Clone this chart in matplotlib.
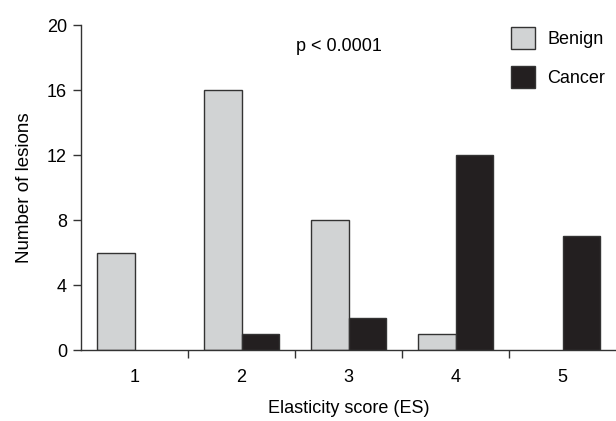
import numpy as np
import matplotlib
matplotlib.use("Agg")
import matplotlib.pyplot as plt
from matplotlib.patches import Patch

plt.rcParams['font.family'] = ['Liberation Sans Narrow', 'Liberation Sans', 'DejaVu Sans']

scores = ['1', '2', '3', '4', '5']
benign = [6, 16, 8, 1, 0]
cancer = [0, 1, 2, 12, 7]

benign_color = '#d1d3d4'
cancer_color = '#231f20'
edge = '#333333'

fig = plt.figure(figsize=(6.16, 4.21), dpi=100)
ax = fig.add_axes([0.1315, 0.1686, 0.8685, 0.772])

x = np.arange(len(scores))
w = 0.355
# no outline on empty bars
lw_b = [1.0 if v > 0 else 0 for v in benign]
lw_c = [1.0 if v > 0 else 0 for v in cancer]
ax.bar(x - w / 2, benign, w, color=benign_color, edgecolor=edge, linewidth=lw_b)
ax.bar(x + w / 2, cancer, w, color=cancer_color, edgecolor=edge, linewidth=lw_c)

ax.set_xlim(-0.5, 4.5)
ax.set_ylim(0, 20)
ax.set_yticks([0, 4, 8, 12, 16, 20])
ax.set_xticks(x)
ax.set_xticklabels(scores)
ax.set_xticks(np.arange(0.5, 4.5, 1), minor=True)
ax.tick_params(axis='x', which='major', length=0, pad=14, labelsize=13)
ax.tick_params(axis='x', which='minor', length=6, direction='out', width=1, color='#333333')
ax.tick_params(axis='y', length=6, width=1, labelsize=13, color='#333333', pad=4)

for s in ['top', 'right']:
    ax.spines[s].set_visible(False)
for s in ['left', 'bottom']:
    ax.spines[s].set_linewidth(1.0)
    ax.spines[s].set_color('#333333')

ax.set_ylabel('Number of lesions', fontsize=13.5, labelpad=10)
ax.set_xlabel('Elasticity score (ES)', fontsize=13, labelpad=10)

ax.text(0.483, 0.935, 'p < 0.0001', transform=ax.transAxes, fontsize=13,
        ha='center', va='center')

handles = [Patch(facecolor=benign_color, edgecolor=edge, label='Benign'),
           Patch(facecolor=cancer_color, edgecolor=edge, label='Cancer')]
ax.legend(handles=handles, loc='upper right', bbox_to_anchor=(1.01, 1.045),
          frameon=False, fontsize=13, handlelength=1.3, handleheight=1.5,
          handletextpad=0.7, labelspacing=0.95)

fig.savefig('out.png', dpi=100)
